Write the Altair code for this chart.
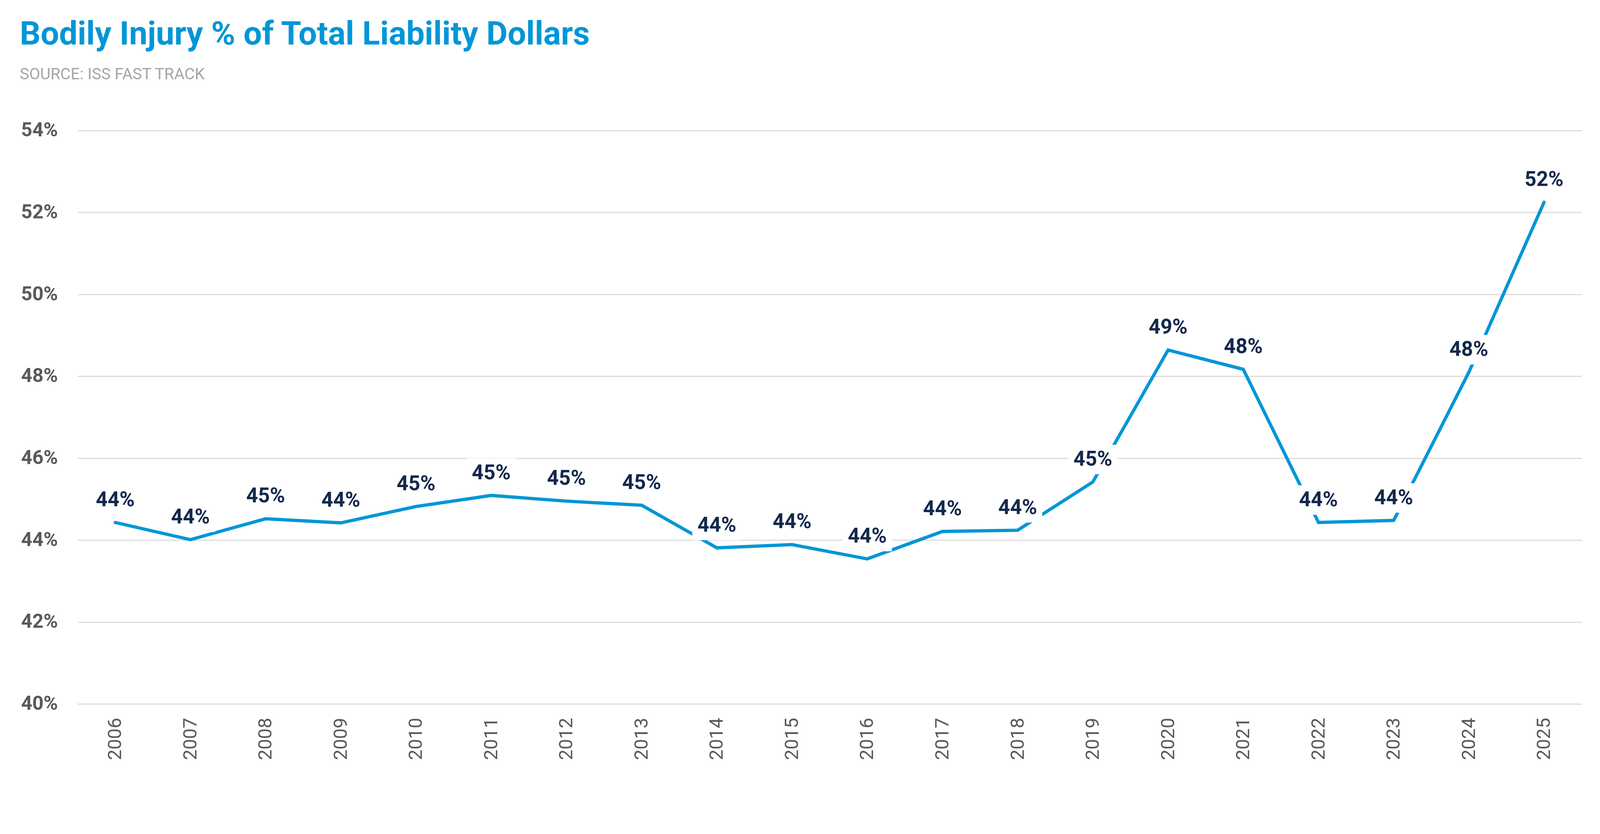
import altair as alt
import pandas as pd

years = [str(y) for y in range(2006, 2026)]
values = [44.43, 44.01, 44.52, 44.42, 44.82, 45.09, 44.95, 44.85, 43.81, 43.89,
          43.54, 44.21, 44.24, 45.42, 48.64, 48.17, 44.43, 44.48, 48.10, 52.25]
y_ticks = [40, 42, 44, 46, 48, 50, 52, 54]

title_text = "Bodily Injury % of Total Liability Dollars"
subtitle_text = "SOURCE: ISS FAST TRACK"

df = pd.DataFrame({"year": years, "value": values})

FONT = "Roboto"
LINE_COLOR = "#0096D6"
LABEL_COLOR = "#13284C"
AXIS_COLOR = "#595959"

x = alt.X("year:O", title=None, sort=years,
          scale=alt.Scale(type="point", padding=0.5),
          axis=alt.Axis(labelAngle=270, labelFont=FONT, labelFontSize=52,
                        labelColor=AXIS_COLOR, labelPadding=38, ticks=False,
                        domain=False, grid=False))
y = alt.Y("value:Q", title=None,
          scale=alt.Scale(domain=[40, 54], nice=False, zero=False),
          axis=alt.Axis(values=y_ticks, labelExpr="datum.value + '%'",
                        labelFont=FONT, labelFontSize=54, labelFontWeight="bold",
                        labelColor=AXIS_COLOR, labelPadding=55, ticks=False,
                        domain=False, grid=True, gridColor="#D9D9D9",
                        gridWidth=3))

base = alt.Chart(df).encode(x=x, y=y)

line = base.mark_line(color=LINE_COLOR, strokeWidth=9, strokeCap="round")

boxes = base.mark_point(shape="M-1,-0.6H1V0.6H-1Z", filled=True, color="white",
                        opacity=1, size=136 * 136, strokeWidth=0, yOffset=-62)

labels = base.transform_calculate(
    label="format(round(datum.value), 'd') + '%'"
).mark_text(font=FONT, fontSize=57, fontWeight="bold", color=LABEL_COLOR,
            baseline="middle", align="center", dy=-62).encode(text="label:N")

chart = alt.layer(line, boxes, labels).properties(
    width=4158,
    height=1585,
    autosize=alt.AutoSizeParams(type="none"),
    padding={"left": 206, "top": 268, "right": 42, "bottom": 255},
    background="white",
    title=alt.TitleParams(
        text=title_text,
        subtitle=subtitle_text,
        anchor="start",
        frame="group",
        orient="top",
        dx=-160,
        offset=105,
        font=FONT,
        fontSize=90.5,
        fontWeight="bold",
        color=LINE_COLOR,
        subtitleFont=FONT,
        subtitleFontSize=44,
        subtitleColor="#A6A6A6",
        subtitleFontWeight="normal",
        subtitlePadding=41,
    ),
).configure_view(stroke=None)

chart.save("out.html", embed_options={"renderer": "svg", "actions": False})
